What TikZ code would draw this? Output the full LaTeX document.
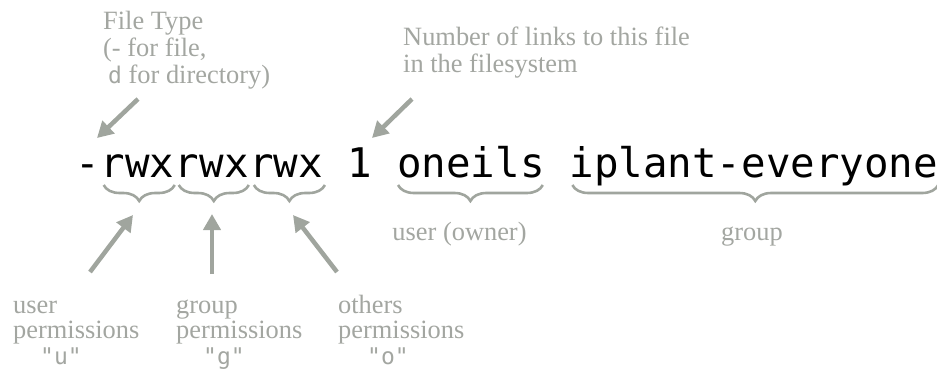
\documentclass[tikz,border=0pt]{standalone}
\usepackage{fontspec}
\setmainfont{Liberation Serif}
\newfontfamily\monof{DejaVu Sans Mono}
\usetikzlibrary{arrows.meta,decorations.pathreplacing}
\definecolor{lgray}{RGB}{160,165,158}
\definecolor{tgray}{RGB}{163,166,161}
\tikzset{
  code/.style={anchor=base west, inner sep=0pt, font=\monof\fontsize{40.8}{48}\selectfont, text=black},
  lbl/.style={inner sep=0pt, text=tgray, font=\fontsize{26.4}{27}\selectfont, align=left},
  lblb/.style={lbl, font=\fontsize{26.4}{25.5}\selectfont},
  pointer/.style={draw=lgray, line width=4.5pt, -{Triangle[length=16pt,width=17pt]}},
  bracket/.style={draw=lgray, line width=2.6pt, decorate, decoration={brace, mirror, amplitude=16pt}},
}
\begin{document}
\begin{tikzpicture}[x=1pt,y=-1pt]
\path[use as bounding box] (0,0) rectangle (937,370);
% main line
\node[code] (dash) at (75.7,177) {-};
\node[code] (rwxa) at (dash.base east) {rwx};
\node[code] (rwxb) at (rwxa.base east) {rwx};
\node[code] (rwxc) at (rwxb.base east) {rwx};
\node[code,xshift=24.56pt] (links) at (rwxc.base east) {1};
\node[code,xshift=24.56pt] (owner) at (links.base east) {oneils};
\node[code,xshift=24.56pt] (grp) at (owner.base east) {iplant-everyone};
% braces
\draw[bracket] ([xshift=3pt,yshift=-8pt]rwxa.base west) -- ([xshift=0pt,yshift=-8pt]rwxa.base east);
\draw[bracket] ([xshift=4pt,yshift=-8pt]rwxb.base west) -- ([xshift=0pt,yshift=-8pt]rwxb.base east);
\draw[bracket] ([xshift=5pt,yshift=-8pt]rwxc.base west) -- ([xshift=2pt,yshift=-8pt]rwxc.base east);
\draw[bracket] ([xshift=1pt,yshift=-8pt]owner.base west) -- ([xshift=-2pt,yshift=-8pt]owner.base east);
\draw[bracket] ([xshift=3pt,yshift=-8pt]grp.base west) -- ([xshift=0pt,yshift=-8pt]grp.base east);
% labels (base anchor = baseline of last line)
\node[lbl, anchor=base west] (ftype) at (103,83) {File Type\\(- for file,\\\hspace*{5pt}{\monof\fontsize{23}{27}\selectfont d} for directory)};
\node[lbl, anchor=base west] (nlinks) at (403,72) {Number of links to this file\\in the filesystem};
\node[lbl, anchor=base] (ownerlbl) at (459.5,240) {user (owner)};
\node[lbl, anchor=base] (grplbl) at (752,240) {group};
\node[lblb, anchor=base west] (uperm) at (13,364) {user\\permissions\\\hspace*{27pt}{\monof\fontsize{23}{26}\selectfont "u"}};
\node[lblb, anchor=base west] (gperm) at (176,364) {group\\permissions\\\hspace*{27pt}{\monof\fontsize{23}{26}\selectfont "g"}};
\node[lblb, anchor=base west] (operm) at (338,364) {others\\permissions\\\hspace*{29pt}{\monof\fontsize{23}{26}\selectfont "o"}};
% arrows
\coordinate (ftT) at (138,99); \coordinate (ftH) at (97,138);
\coordinate (lnT) at (412,99); \coordinate (lnH) at (372,138);
\coordinate (upT) at (90,272); \coordinate (upH) at (133,215);
\coordinate (gpT) at (212,274); \coordinate (gpH) at (212,214);
\coordinate (opT) at (337,272); \coordinate (opH) at (293,215);
\draw[pointer] (ftT) -- (ftH);
\draw[pointer] (lnT) -- (lnH);
\draw[pointer] (upT) -- (upH);
\draw[pointer] (gpT) -- (gpH);
\draw[pointer] (opT) -- (opH);
\end{tikzpicture}
\end{document}
